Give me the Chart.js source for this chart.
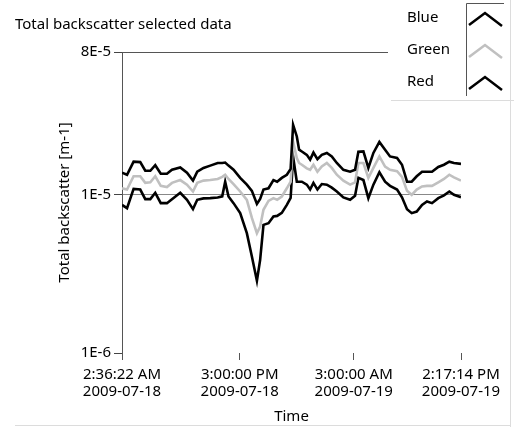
<!DOCTYPE html>
<html><head><meta charset="utf-8">
<script src="https://cdn.jsdelivr.net/npm/chart.js@4/dist/chart.umd.min.js"></script>
<style>html,body{margin:0;padding:0;background:#fff;}#wrap{width:514px;height:427px;}</style>
</head><body><div id="wrap"><canvas id="c" width="514" height="427"></canvas></div>
<script>
// hours elapsed since 2009-07-18 02:36:22
const hoursSinceStart = [0,0.53,1.22,1.92,2.45,2.98,3.50,4.08,4.73,5.26,6.13,6.84,7.47,7.92,8.58,9.29,10.07,10.55,10.86,11.21,11.74,12.44,13.14,13.67,14.20,14.54,14.89,15.42,15.94,16.33,16.82,17.35,17.75,18.01,18.40,18.64,18.93,19.45,19.80,20.15,20.57,21.03,21.56,22.08,22.61,23.30,24.01,24.53,24.88,25.41,25.93,26.46,27.09,27.69,28.21,28.95,29.47,30.00,30.49,31.02,31.58,32.10,32.63,33.29,33.89,34.45,34.94,35.68];
const blueValues = [1.38e-5,1.34e-5,1.62e-5,1.61e-5,1.42e-5,1.42e-5,1.54e-5,1.36e-5,1.36e-5,1.44e-5,1.49e-5,1.38e-5,1.23e-5,1.40e-5,1.48e-5,1.53e-5,1.59e-5,1.59e-5,1.60e-5,1.53e-5,1.44e-5,1.28e-5,1.16e-5,1.06e-5,8.77e-6,9.43e-6,1.08e-5,1.10e-5,1.24e-5,1.21e-5,1.28e-5,1.34e-5,1.46e-5,2.77e-5,2.34e-5,1.93e-5,1.88e-5,1.79e-5,1.67e-5,1.85e-5,1.68e-5,1.79e-5,1.84e-5,1.75e-5,1.59e-5,1.44e-5,1.40e-5,1.44e-5,1.87e-5,1.88e-5,1.48e-5,1.84e-5,2.16e-5,1.93e-5,1.75e-5,1.71e-5,1.55e-5,1.21e-5,1.21e-5,1.31e-5,1.40e-5,1.40e-5,1.40e-5,1.50e-5,1.55e-5,1.62e-5,1.59e-5,1.57e-5];
const greenValues = [1.10e-5,1.08e-5,1.31e-5,1.31e-5,1.19e-5,1.20e-5,1.31e-5,1.14e-5,1.12e-5,1.19e-5,1.24e-5,1.16e-5,1.05e-5,1.19e-5,1.23e-5,1.24e-5,1.26e-5,1.30e-5,1.34e-5,1.26e-5,1.17e-5,1.05e-5,9.30e-6,7.15e-6,5.72e-6,6.30e-6,8.04e-6,9.16e-6,9.53e-6,9.30e-6,9.76e-6,1.10e-5,1.21e-5,2.17e-5,1.71e-5,1.59e-5,1.55e-5,1.47e-5,1.44e-5,1.55e-5,1.40e-5,1.51e-5,1.59e-5,1.48e-5,1.34e-5,1.23e-5,1.16e-5,1.20e-5,1.59e-5,1.59e-5,1.28e-5,1.48e-5,1.75e-5,1.51e-5,1.44e-5,1.41e-5,1.30e-5,1.06e-5,1.00e-5,1.08e-5,1.13e-5,1.14e-5,1.14e-5,1.20e-5,1.26e-5,1.34e-5,1.29e-5,1.23e-5];
const redValues = [8.64e-6,8.24e-6,1.09e-5,1.08e-5,9.39e-6,9.39e-6,1.03e-5,8.86e-6,8.86e-6,9.39e-6,1.03e-5,9.30e-6,8.12e-6,9.30e-6,9.50e-6,9.53e-6,9.61e-6,9.78e-6,1.21e-5,9.76e-6,8.86e-6,7.66e-6,5.72e-6,4.07e-6,2.86e-6,3.88e-6,6.46e-6,6.62e-6,7.29e-6,7.36e-6,7.69e-6,8.64e-6,9.57e-6,1.74e-5,1.21e-5,1.21e-5,1.21e-5,1.16e-5,1.08e-5,1.19e-5,1.08e-5,1.17e-5,1.16e-5,1.11e-5,1.05e-5,9.64e-6,9.30e-6,9.86e-6,1.28e-5,1.24e-5,9.53e-6,1.16e-5,1.39e-5,1.21e-5,1.14e-5,1.08e-5,9.64e-6,8.10e-6,7.66e-6,7.84e-6,8.64e-6,9.07e-6,8.86e-6,9.53e-6,9.93e-6,1.05e-5,1.00e-5,9.67e-6];
const seriesNames = ['Blue','Green','Red'];
const seriesColors = ['#000000','#c0c0c0','#000000'];
const yTickValues = [1e-6, 1e-5, 8e-5];
const yTickLabels = ['1E-6','1E-5','8E-5'];
const xTickHours = [0, 12.394, 24.394, 35.681];
const xTickLabels = [['2:36:22 AM','2009-07-18'],['3:00:00 PM','2009-07-18'],['3:00:00 AM','2009-07-19'],['2:17:14 PM','2009-07-19']];
const chartTitle = 'Total backscatter selected data';
const yTitle = 'Total backscatter [m-1]';
const xTitle = 'Time';

const FAMILY = '"Noto Sans", "Open Sans", sans-serif';
const FONT = {family: FAMILY, size: 15};
const seriesValues = [blueValues, greenValues, redValues];

const decorPlugin = {
  id: 'decor',
  afterDraw(chart) {
    const ctx = chart.ctx;
    ctx.save();
    ctx.fillStyle = '#000';
    ctx.font = '15px ' + FAMILY;
    ctx.textBaseline = 'middle';
    ctx.textAlign = 'left';
    ctx.fillText(chartTitle, 15, 25);
    // legend block
    ctx.fillStyle = '#fff';
    ctx.fillRect(388, 0, 122, 100);
    ctx.fillStyle = '#000';
    const rowY = [18, 50, 82];
    seriesNames.forEach((n, i) => {
      ctx.fillText(n, 407, rowY[i]);
      ctx.strokeStyle = seriesColors[i];
      ctx.lineWidth = 2.5;
      ctx.beginPath();
      ctx.moveTo(469, rowY[i] + 7);
      ctx.lineTo(485, rowY[i] - 5);
      ctx.lineTo(502, rowY[i] + 8);
      ctx.stroke();
    });
    ctx.strokeStyle = '#555';
    ctx.lineWidth = 1;
    ctx.beginPath();
    ctx.moveTo(466.5, 96);
    ctx.lineTo(466.5, 3.5);
    ctx.lineTo(504, 3.5);
    ctx.stroke();
    // light frame
    ctx.strokeStyle = '#dcdcdc';
    ctx.beginPath();
    ctx.moveTo(391, 100.5); ctx.lineTo(514, 100.5);
    ctx.moveTo(510.5, 0); ctx.lineTo(510.5, 427);
    ctx.moveTo(15, 425.5); ctx.lineTo(511, 425.5);
    ctx.stroke();
    ctx.restore();
  }
};

new Chart(document.getElementById('c'), {
  type: 'line',
  data: {
    datasets: seriesNames.map((n, i) => ({
      label: n,
      data: hoursSinceStart.map((h, k) => ({x: h, y: seriesValues[i][k]})),
      borderColor: seriesColors[i],
      borderWidth: 2.6,
      pointRadius: 0,
      tension: 0,
      fill: false
    }))
  },
  options: {
    responsive: false,
    animation: false,
    devicePixelRatio: 1,
    layout: {padding: {left: 0, right: 53, top: 52, bottom: 0}},
    plugins: {legend: {display: false}, tooltip: {enabled: false}, title: {display: false}},
    scales: {
      x: {
        type: 'linear',
        min: 0,
        max: 35.681,
        afterBuildTicks: s => { s.ticks = xTickHours.map(v => ({value: v})); },
        afterFit: s => { s.height = 74; },
        ticks: {
          autoSkip: false, maxRotation: 0, minRotation: 0, padding: 6,
          color: '#000', font: {...FONT, lineHeight: 1.13},
          callback: (v, i) => xTickLabels[i]
        },
        grid: {drawOnChartArea: false, drawTicks: true, tickLength: 7, tickColor: '#555', color: '#555'},
        border: {display: false},
        title: {display: true, text: xTitle, color: '#000', font: {...FONT, lineHeight: 1.2}, padding: {top: 0, bottom: 1}}
      },
      y: {
        type: 'logarithmic',
        min: 1e-6,
        max: 8e-5,
        afterBuildTicks: s => { s.ticks = yTickValues.map(v => ({value: v})); },
        afterFit: s => { s.width = 122; },
        ticks: {
          autoSkip: false, padding: 3, color: '#000', font: FONT,
          callback: (v, i) => yTickLabels[i]
        },
        grid: {
          drawTicks: true, tickLength: 8, tickColor: '#444',
          color: c => (c.tick && c.tick.value === 1e-5) ? '#888' : (c.tick && c.tick.value === 8e-5 ? '#555' : 'rgba(0,0,0,0)')
        },
        border: {display: true, color: '#555', width: 1},
        title: {display: true, text: yTitle, color: '#000', font: {...FONT, lineHeight: 1.2}, padding: {top: 56, bottom: 0}}
      }
    }
  },
  plugins: [decorPlugin]
});
</script></body></html>
